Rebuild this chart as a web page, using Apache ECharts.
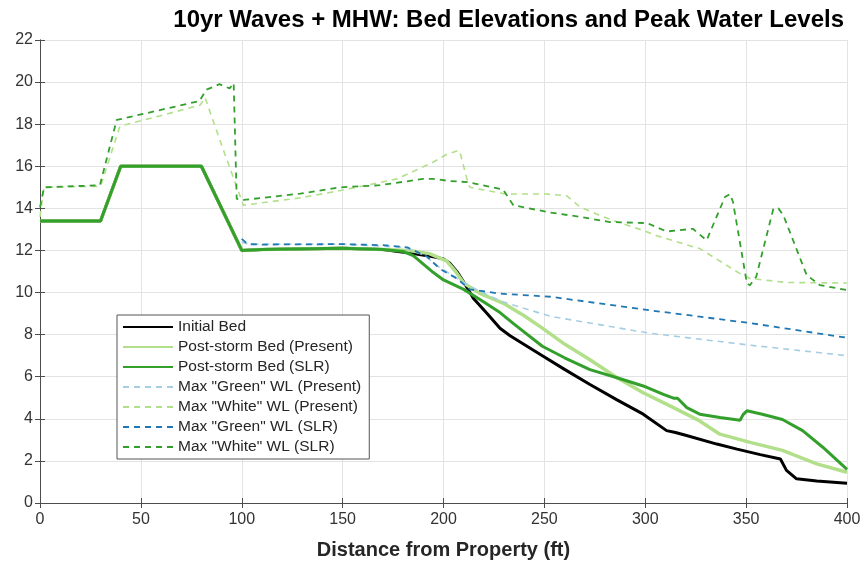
<!DOCTYPE html>
<html>
<head>
<meta charset="utf-8">
<script src="https://cdn.jsdelivr.net/npm/echarts@6/dist/echarts.min.js"></script>
<style>html,body{margin:0;padding:0;background:#fff;}#c{width:866px;height:565px;}</style>
</head>
<body>
<div id="c"></div>
<script>
// ---- data (distance ft, elevation) ----
const xTicks = [0, 50, 100, 150, 200, 250, 300, 350, 400];
const yTicks = [0, 2, 4, 6, 8, 10, 12, 14, 16, 18, 20, 22];

const initialBedX = [0,30,40,80,100,110,150,170,185,195,200,203,207,210,215,221.6,228,233,249,260,272.6,286,299,310.6,315,320,335.5,345.5,357,367,370,375,385,400];
const initialBedY = [13.4,13.4,16,16,12.0,12.05,12.1,12.05,11.85,11.7,11.6,11.4,10.95,10.5,9.7,9.0,8.3,7.95,7.0,6.35,5.63,4.9,4.22,3.44,3.35,3.22,2.8,2.56,2.3,2.09,1.55,1.15,1.04,0.94];

const presentBedX = [0,30,40,80,100,110,150,170,183,193,201.5,206,210,218,229.5,240,249,260,272.6,286,299,314,327,337,352,368,385,400];
const presentBedY = [13.4,13.4,16,16,12.0,12.05,12.1,12.05,12.0,11.85,11.5,11.0,10.45,9.96,9.5,8.9,8.31,7.55,6.81,5.95,5.24,4.53,3.9,3.27,2.88,2.5,1.86,1.46];

const slrBedX = [0,30,40,80,100,110,150,170,180,185,190,195,200,210,220,228,235,249,260,272.6,286,299,309,314,316,320.6,327,337,347,348.5,350.4,358,368,378,388,400];
const slrBedY = [13.4,13.4,16,16,12.0,12.05,12.1,12.05,11.95,11.75,11.35,10.95,10.6,10.15,9.55,9.05,8.5,7.45,6.9,6.34,5.95,5.56,5.16,4.98,4.98,4.53,4.22,4.06,3.93,4.2,4.38,4.22,3.97,3.44,2.65,1.6];

const greenWlPresentX = [100,103,150,180,190,198,203,213,228,253,302,352,400];
const greenWlPresentY = [12.4,12.3,12.3,12.15,11.8,11.2,10.9,10.3,9.6,8.87,8.07,7.5,7.0];

const whiteWlPresentX = [0,2,30,39.6,79.3,81.8,90.8,100.8,129,149,172,177,195,201.6,206.6,208,211.6,213,231,251,261,267.6,277.6,286,299,305.7,323.7,327,347,352,370,400];
const whiteWlPresentY = [13.6,15.0,15.05,17.9,18.9,19.26,16.8,14.15,14.5,14.85,15.3,15.4,16.2,16.57,16.73,16.73,15.4,15.0,14.68,14.68,14.6,14.07,13.66,13.36,12.95,12.7,12.18,12.09,10.9,10.67,10.48,10.45];

const greenWlSlrX = [100,103,110,150,170,182,192,198,206.6,213,228,253,302,352,400];
const greenWlSlrY = [12.55,12.3,12.28,12.3,12.25,12.15,11.7,11.14,10.67,10.15,9.95,9.8,9.16,8.55,7.85];

const whiteWlSlrX = [0,2,29.7,38,79,82.5,89,94,96,97.5,100.8,129,149,168.5,190,195,203,211.6,229.5,234.6,253,267.6,282.5,301,305.7,310.6,323.6,330.4,339.5,342,343.5,350.4,351.9,355,363.5,366,368.5,380,386.6,400];
const whiteWlSlrY = [14.05,15.0,15.1,18.2,19.1,19.64,19.9,19.7,19.95,14.45,14.4,14.7,15.0,15.1,15.4,15.4,15.3,15.25,14.9,14.15,13.8,13.6,13.35,13.3,13.1,12.9,13.03,12.48,14.54,14.68,14.3,10.43,10.35,10.75,13.98,14.0,13.66,10.83,10.35,10.12];

const pair = (xs, ys) => xs.map((x, i) => [x, ys[i]]);

const FONT = '"Liberation Sans", Arial, sans-serif';
const AX = '#4d4d4d';

function line(name, xs, ys, color, width, dashed) {
  return {
    name, type: 'line', data: pair(xs, ys),
    symbol: 'none', showSymbol: false, animation: false,
    lineStyle: { color, width, type: dashed ? [6, 5] : 'solid' },
    itemStyle: { color }
  };
}

const chart = echarts.init(document.getElementById('c'), null, { renderer: 'canvas' });
chart.setOption({
  animation: false,
  backgroundColor: '#fff',
  title: {
    text: '10yr Waves + MHW: Bed Elevations and Peak Water Levels',
    right: 17, top: 3,
    textStyle: { fontFamily: FONT, fontSize: 24, fontWeight: 'bold', color: '#000' }
  },
  grid: { left: 40, right: 19, top: 40, bottom: 59 },
  legend: {
    orient: 'vertical', left: 117, top: 315,
    backgroundColor: '#fff', borderColor: '#555', borderWidth: 1,
    padding: [4, 8, 4, 5],
    itemWidth: 50, itemHeight: 12, itemGap: 4,
    itemStyle: { opacity: 0 },
    textStyle: { fontFamily: FONT, fontSize: 15.5, color: '#262626' },
    data: ['Initial Bed', 'Post-storm Bed (Present)', 'Post-storm Bed (SLR)', 'Max "Green" WL (Present)', 'Max "White" WL (Present)', 'Max "Green" WL (SLR)', 'Max "White" WL (SLR)']
  },
  xAxis: [{
    type: 'value', min: 0, max: 400, interval: 50,
    name: 'Distance from Property (ft)', nameLocation: 'middle', nameGap: 37,
    nameTextStyle: { fontFamily: FONT, fontSize: 20, fontWeight: 'bold', color: '#262626' },
    axisLine: { show: true, lineStyle: { color: AX } },
    axisTick: { show: true, inside: true, length: 5, lineStyle: { color: AX } },
    axisLabel: { fontFamily: FONT, fontSize: 16, color: '#333', margin: 9 },
    splitLine: { show: true, lineStyle: { color: '#e3e3e3' } }
  }, {
    type: 'value', min: 0, max: 400, interval: 50, position: 'top',
    axisLine: { show: true, lineStyle: { color: AX } },
    axisTick: { show: true, inside: true, length: 5, lineStyle: { color: AX } },
    axisLabel: { show: false }, splitLine: { show: false }
  }],
  yAxis: [{
    type: 'value', min: 0, max: 22, interval: 2,
    axisLine: { show: true, lineStyle: { color: AX } },
    axisTick: { show: true, inside: true, length: 5, lineStyle: { color: AX } },
    axisLabel: { fontFamily: FONT, fontSize: 16, color: '#333', margin: 7 },
    splitLine: { show: true, lineStyle: { color: '#e3e3e3' } }
  }, {
    type: 'value', min: 0, max: 22, interval: 2, position: 'right',
    axisLine: { show: true, lineStyle: { color: AX } },
    axisTick: { show: true, inside: true, length: 5, lineStyle: { color: AX } },
    axisLabel: { show: false }, splitLine: { show: false }
  }],
  series: [
    line('Initial Bed', initialBedX, initialBedY, '#000000', 3, false),
    line('Post-storm Bed (Present)', presentBedX, presentBedY, '#b2df8a', 3.5, false),
    line('Post-storm Bed (SLR)', slrBedX, slrBedY, '#33a02c', 3, false),
    line('Max "Green" WL (Present)', greenWlPresentX, greenWlPresentY, '#a6cee3', 1.6, true),
    line('Max "White" WL (Present)', whiteWlPresentX, whiteWlPresentY, '#b2df8a', 1.6, true),
    line('Max "Green" WL (SLR)', greenWlSlrX, greenWlSlrY, '#1f78b4', 1.8, true),
    line('Max "White" WL (SLR)', whiteWlSlrX, whiteWlSlrY, '#33a02c', 1.8, true)
  ]
});
</script>
</body>
</html>
